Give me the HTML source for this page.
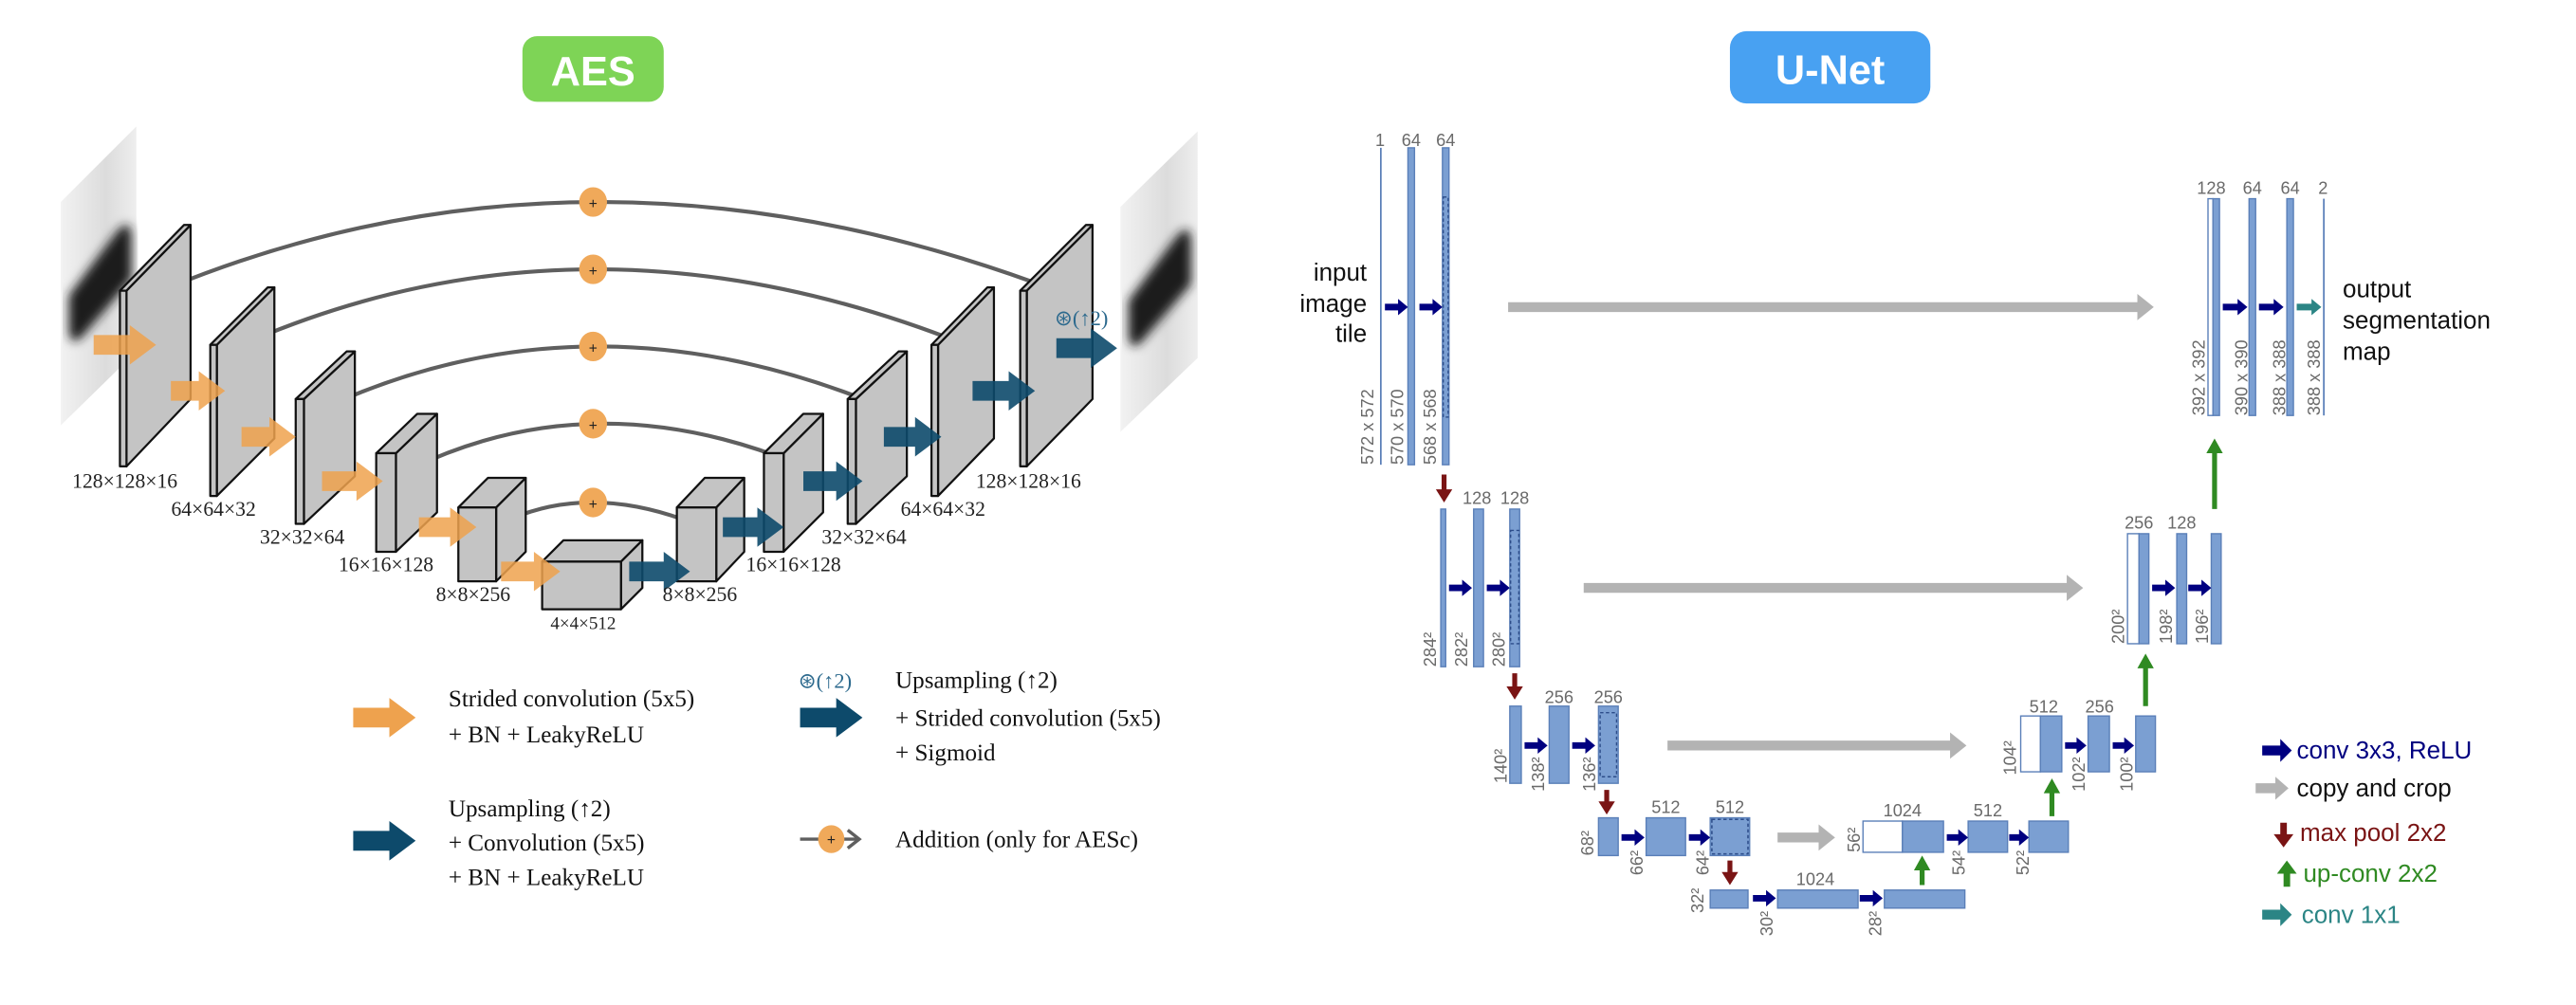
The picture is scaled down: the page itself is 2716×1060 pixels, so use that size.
<!DOCTYPE html>
<html><head><meta charset="utf-8"><style>
html,body{margin:0;padding:0;background:#fff;}
svg{display:block;}
.lab{font-family:"Liberation Serif",serif;font-size:12.5px;fill:#222;}
.leg{font-family:"Liberation Serif",serif;font-size:14.5px;fill:#111;}
.un{font-family:"Liberation Sans",sans-serif;font-size:10.5px;fill:#6a6a6a;}
.ul{font-family:"Liberation Sans",sans-serif;font-size:15px;}
.bar{fill:#7b9fd2;stroke:#5a7fb8;stroke-width:0.8;}
.wb{fill:#fff;stroke:#5a7fb8;stroke-width:0.8;}
.box{fill:#c4c4c4;stroke:#111;stroke-width:1.3;stroke-linejoin:round;}
.arc{fill:none;stroke:#5f5f5f;stroke-width:2.4;}
</style></head><body>
<svg width="2716" height="1060" viewBox="0 0 1568 612" preserveAspectRatio="none" xmlns="http://www.w3.org/2000/svg">
<defs>
<marker id="chev" markerWidth="14" markerHeight="14" refX="9" refY="7" orient="auto" markerUnits="userSpaceOnUse">
<path d="M2,1.5 L9,7 L2,12.5" fill="none" stroke="#5f5f5f" stroke-width="2"/>
</marker>
<linearGradient id="img" x1="0" x2="1"><stop offset="0" stop-color="#f2f2f2"/><stop offset="0.6" stop-color="#dcdcdc"/><stop offset="1" stop-color="#eeeeee"/></linearGradient>
<filter id="bl"><feGaussianBlur stdDeviation="3"/></filter>
</defs>

<rect x="318" y="22" width="86" height="40" rx="9" fill="#7ed456"/>
<text x="361" y="52" text-anchor="middle" font-family="Liberation Sans,sans-serif" font-weight="bold" font-size="25" fill="#fff">AES</text>
<rect x="1053" y="19" width="122" height="44" rx="10" fill="#48a1f2"/>
<text x="1114" y="51" text-anchor="middle" font-family="Liberation Sans,sans-serif" font-weight="bold" font-size="25" fill="#fff">U-Net</text>

<polygon points="37,123 83,77 83,214 37,259" fill="url(#img)"/>
<path d="M42,180 L72,140 Q80,132 80,145 L80,170 L50,205 Q42,212 42,200 Z" fill="#1e1e1e" filter="url(#bl)"/>
<rect x="60" y="150" width="16" height="30" fill="#0e0e0e" transform="skewY(-45) translate(0,0)" opacity="0"/>
<polygon points="682,126 729,80 729,218 682,263" fill="url(#img)"/>
<path d="M687,183 L717,143 Q725,135 725,148 L725,173 L695,208 Q687,215 687,203 Z" fill="#1e1e1e" filter="url(#bl)"/>

<path class="arc" d="M103,175 Q361,70 643,177" marker-end="url(#chev)"/>
<path class="arc" d="M154,207 Q361,119.5 588,210" marker-end="url(#chev)"/>
<path class="arc" d="M205,245 Q361,176.5 533,246" marker-end="url(#chev)"/>
<path class="arc" d="M251,285 Q361,232.5 484,282" marker-end="url(#chev)"/>
<path class="arc" d="M311,316 Q361,294.5 423,319" marker-end="url(#chev)"/>

<g>
<polygon class="box" points="77,177 116,137 116,243 77,284"/><polygon class="box" points="73,177 112,137 116,137 77,177"/><rect class="box" x="73" y="177" width="4" height="107"/>
<polygon class="box" points="132,210 167,175 167,267 132,302"/><polygon class="box" points="128,210 163,175 167,175 132,210"/><rect class="box" x="128" y="210" width="4" height="92"/>
<polygon class="box" points="185,243 216,214 216,290 185,319"/><polygon class="box" points="180,243 211,214 216,214 185,243"/><rect class="box" x="180" y="243" width="5" height="76"/>
<polygon class="box" points="241,276 266,252 266,312 241,336"/><polygon class="box" points="229,276 254,252 266,252 241,276"/><rect class="box" x="229" y="276" width="12" height="60"/>
<polygon class="box" points="302,309 320,291 320,336 302,354"/><polygon class="box" points="279,309 297,291 320,291 302,309"/><rect class="box" x="279" y="309" width="23" height="45"/>
<polygon class="box" points="378,342 391,329 391,358 378,371"/><polygon class="box" points="330,342 343,329 391,329 378,342"/><rect class="box" x="330" y="342" width="48" height="29"/>
<polygon class="box" points="436,309 453,291 453,336 436,354"/><polygon class="box" points="412,309 429,291 453,291 436,309"/><rect class="box" x="412" y="309" width="24" height="45"/>
<polygon class="box" points="477,276 501,252 501,312 477,336"/><polygon class="box" points="465,276 489,252 501,252 477,276"/><rect class="box" x="465" y="276" width="12" height="60"/>
<polygon class="box" points="521,243 552,214 552,290 521,319"/><polygon class="box" points="516,243 547,214 552,214 521,243"/><rect class="box" x="516" y="243" width="5" height="76"/>
<polygon class="box" points="571,210 605,175 605,267 571,302"/><polygon class="box" points="567,210 601,175 605,175 571,210"/><rect class="box" x="567" y="210" width="4" height="92"/>
<polygon class="box" points="625,177 665,137 665,243 625,284"/><polygon class="box" points="621,177 661,137 665,137 625,177"/><rect class="box" x="621" y="177" width="4" height="107"/>
</g>

<g fill="#f0a95a" font-family="Liberation Sans,sans-serif" font-size="9" text-anchor="middle">
<ellipse cx="361" cy="123" rx="8.5" ry="9"/><ellipse cx="361" cy="164" rx="8.5" ry="9"/><ellipse cx="361" cy="211" rx="8.5" ry="9"/><ellipse cx="361" cy="258" rx="8.5" ry="9"/><ellipse cx="361" cy="306" rx="8.5" ry="9"/>
<g fill="#222"><text x="361" y="127">+</text><text x="361" y="168">+</text><text x="361" y="215">+</text><text x="361" y="262">+</text><text x="361" y="310">+</text></g>
</g>

<g fill="#eea24e" fill-opacity="0.85">
<polygon points="57,204 79,204 79,198 95,210 79,222 79,216 57,216"/>
<polygon points="104,232 121,232 121,226 137,238 121,250 121,244 104,244"/>
<polygon points="147,260 164,260 164,254 180,266 164,278 164,272 147,272"/>
<polygon points="196,287 217,287 217,281 233,293 217,305 217,299 196,299"/>
<polygon points="255,315 274,315 274,309 290,321 274,333 274,327 255,327"/>
<polygon points="305,342 325,342 325,336 341,348 325,360 325,354 305,354"/>
</g>
<g fill="#0d4a6b" fill-opacity="0.9">
<polygon points="383,342 404,342 404,336 420,348 404,360 404,354 383,354"/>
<polygon points="440,315 461,315 461,309 477,321 461,333 461,327 440,327"/>
<polygon points="489,287 509,287 509,281 525,293 509,305 509,299 489,299"/>
<polygon points="538,260 557,260 557,254 573,266 557,278 557,272 538,272"/>
<polygon points="592,232 614,232 614,226 630,238 614,250 614,244 592,244"/>
<polygon points="643,206 664,206 664,200 680,212 664,224 664,218 643,218"/>
</g>
<text x="642" y="198" font-family="Liberation Serif,serif" font-size="13" fill="#2d6a8e">⊛(↑2)</text>

<g class="lab" text-anchor="middle">
<text x="76" y="297">128×128×16</text>
<text x="130" y="314">64×64×32</text>
<text x="184" y="331">32×32×64</text>
<text x="235" y="348">16×16×128</text>
<text x="288" y="366">8×8×256</text>
<text x="355" y="383" font-size="11">4×4×512</text>
<text x="426" y="366">8×8×256</text>
<text x="483" y="348">16×16×128</text>
<text x="526" y="331">32×32×64</text>
<text x="574" y="314">64×64×32</text>
<text x="626" y="297">128×128×16</text>
</g>

<polygon points="215,431 237,431 237,425 253,437 237,449 237,443 215,443" fill="#eea24e"/>
<text class="leg" x="273" y="430">Strided convolution (5x5)</text>
<text class="leg" x="273" y="452">+ BN + LeakyReLU</text>
<polygon points="215,506 237,506 237,500 253,512 237,524 237,518 215,518" fill="#0d4a6b"/>
<text class="leg" x="273" y="497">Upsampling (↑2)</text>
<text class="leg" x="273" y="518">+ Convolution (5x5)</text>
<text class="leg" x="273" y="539">+ BN + LeakyReLU</text>
<text x="486" y="419" font-family="Liberation Serif,serif" font-size="13" fill="#2d6a8e">⊛(↑2)</text>
<polygon points="487,431 509,431 509,425 525,437 509,449 509,443 487,443" fill="#0d4a6b"/>
<text class="leg" x="545" y="419">Upsampling (↑2)</text>
<text class="leg" x="545" y="442">+ Strided convolution (5x5)</text>
<text class="leg" x="545" y="463">+ Sigmoid</text>
<path d="M487,511 L523,511" stroke="#5f5f5f" stroke-width="2" marker-end="url(#chev)"/>
<ellipse cx="506" cy="511" rx="8" ry="8.5" fill="#f0a95a"/>
<text x="506" y="514.5" text-anchor="middle" font-family="Liberation Sans,sans-serif" font-size="9" fill="#222">+</text>
<text class="leg" x="545" y="516">Addition (only for AESc)</text>

<g fill="#b3b3b3">
<polygon points="918,184 1301,184 1301,179 1311,187 1301,195 1301,190 918,190"/>
<polygon points="964,355 1258,355 1258,350 1268,358 1258,366 1258,361 964,361"/>
<polygon points="1015,451 1187,451 1187,446 1197,454 1187,462 1187,457 1015,457"/>
<polygon points="1082,507 1107,507 1107,502 1117,510 1107,518 1107,513 1082,513"/>
</g>
<rect x="840" y="90" width="1" height="193" fill="#5a7fb8"/>
<rect class="bar" x="857" y="90" width="4" height="193"/>
<rect class="bar" x="878" y="90" width="4" height="193"/>
<rect x="878.5" y="120" width="3" height="134" fill="none" stroke="#2d4d8a" stroke-width="0.8" stroke-dasharray="2,1.5"/>
<rect class="wb" x="1344" y="121" width="3" height="132"/>
<rect class="bar" x="1347" y="121" width="4" height="132"/>
<rect class="bar" x="1369" y="121" width="4" height="132"/>
<rect class="bar" x="1392" y="121" width="4" height="132"/>
<rect x="1414" y="121" width="1" height="132" fill="#5a7fb8"/>
<rect class="bar" x="877" y="310" width="3" height="96"/>
<rect class="bar" x="897" y="310" width="6" height="96"/>
<rect class="bar" x="919" y="310" width="6" height="96"/>
<rect x="919.5" y="323" width="5" height="69" fill="none" stroke="#2d4d8a" stroke-width="0.8" stroke-dasharray="2,1.5"/>
<rect class="wb" x="1295" y="325" width="7" height="67"/>
<rect class="bar" x="1302" y="325" width="6" height="67"/>
<rect class="bar" x="1325" y="325" width="6" height="67"/>
<rect class="bar" x="1346" y="325" width="6" height="67"/>
<rect class="bar" x="919" y="430" width="7" height="47"/>
<rect class="bar" x="943" y="430" width="12" height="47"/>
<rect class="bar" x="973" y="430" width="12" height="47"/>
<rect x="974" y="434" width="10" height="39" fill="none" stroke="#2d4d8a" stroke-width="0.8" stroke-dasharray="2,1.5"/>
<rect class="wb" x="1230" y="436" width="12" height="34"/>
<rect class="bar" x="1242" y="436" width="13" height="34"/>
<rect class="bar" x="1271" y="436" width="13" height="34"/>
<rect class="bar" x="1300" y="436" width="12" height="34"/>
<rect class="bar" x="973" y="498" width="12" height="23"/>
<rect class="bar" x="1002" y="498" width="24" height="23"/>
<rect class="bar" x="1041" y="498" width="24" height="23"/>
<rect x="1042" y="499" width="22" height="21" fill="none" stroke="#2d4d8a" stroke-width="0.9" stroke-dasharray="2,1.5"/>
<rect class="wb" x="1134" y="500" width="24" height="19"/>
<rect class="bar" x="1158" y="500" width="25" height="19"/>
<rect class="bar" x="1198" y="500" width="24" height="19"/>
<rect class="bar" x="1235" y="500" width="24" height="19"/>
<rect class="bar" x="1041" y="542" width="23" height="11"/>
<rect class="bar" x="1082" y="542" width="49" height="11"/>
<rect class="bar" x="1147" y="542" width="49" height="11"/>

<g fill="#000080">
<polygon points="843,185 851,185 851,182 857,187 851,192 851,189 843,189"/>
<polygon points="864,185 872,185 872,182 878,187 872,192 872,189 864,189"/>
<polygon points="1353,185 1362,185 1362,182 1368,187 1362,192 1362,189 1353,189"/>
<polygon points="1375,185 1384,185 1384,182 1390,187 1384,192 1384,189 1375,189"/>
<polygon points="882,356 890,356 890,353 896,358 890,363 890,360 882,360"/>
<polygon points="905,356 913,356 913,353 919,358 913,363 913,360 905,360"/>
<polygon points="1310,356 1318,356 1318,353 1324,358 1318,363 1318,360 1310,360"/>
<polygon points="1332,356 1340,356 1340,353 1346,358 1340,363 1340,360 1332,360"/>
<polygon points="928,452 936,452 936,449 942,454 936,459 936,456 928,456"/>
<polygon points="957,452 965,452 965,449 971,454 965,459 965,456 957,456"/>
<polygon points="1257,452 1264,452 1264,449 1270,454 1264,459 1264,456 1257,456"/>
<polygon points="1286,452 1293,452 1293,449 1299,454 1293,459 1293,456 1286,456"/>
<polygon points="987,508 995,508 995,505 1001,510 995,515 995,512 987,512"/>
<polygon points="1028,508 1035,508 1035,505 1041,510 1035,515 1035,512 1028,512"/>
<polygon points="1185,508 1192,508 1192,505 1198,510 1192,515 1192,512 1185,512"/>
<polygon points="1223,508 1229,508 1229,505 1235,510 1229,515 1229,512 1223,512"/>
<polygon points="1067,545 1075,545 1075,542 1081,547 1075,552 1075,549 1067,549"/>
<polygon points="1132,545 1140,545 1140,542 1146,547 1140,552 1140,549 1132,549"/>
</g>
<polygon points="1398,185 1407,185 1407,182 1413,187 1407,192 1407,189 1398,189" fill="#2b8585"/>
<g fill="#7a1414">
<polygon points="877.5,289 880.5,289 880.5,298 884,298 879,306 874,298 877.5,298"/>
<polygon points="920.5,410 923.5,410 923.5,418 927,418 922,426 917,418 920.5,418"/>
<polygon points="976.5,481 979.5,481 979.5,488 983,488 978,496 973,488 976.5,488"/>
<polygon points="1051.5,524 1054.5,524 1054.5,531 1058,531 1053,539 1048,531 1051.5,531"/>
</g>
<g fill="#2f8a22">
<polygon points="1346.5,310 1349.5,310 1349.5,276 1353,276 1348,267 1343,276 1346.5,276"/>
<polygon points="1304.5,430 1307.5,430 1307.5,407 1311,407 1306,398 1301,407 1304.5,407"/>
<polygon points="1247.5,497 1250.5,497 1250.5,483 1254,483 1249,474 1244,483 1247.5,483"/>
<polygon points="1168.5,539 1171.5,539 1171.5,530 1175,530 1170,521 1165,530 1168.5,530"/>
</g>

<g class="un" text-anchor="middle">
<text x="840" y="89">1</text><text x="859" y="89">64</text><text x="880" y="89">64</text>
<text x="1346" y="118">128</text><text x="1371" y="118">64</text><text x="1394" y="118">64</text><text x="1414" y="118">2</text>
<text x="899" y="307">128</text><text x="922" y="307">128</text>
<text x="1302" y="322">256</text><text x="1328" y="322">128</text>
<text x="949" y="428">256</text><text x="979" y="428">256</text>
<text x="1244" y="434">512</text><text x="1278" y="434">256</text>
<text x="1014" y="495">512</text><text x="1053" y="495">512</text>
<text x="1158" y="497">1024</text><text x="1210" y="497">512</text>
<text x="1105" y="539">1024</text>
</g>
<g class="un">
<text transform="translate(836,283) rotate(-90)">572 x 572</text>
<text transform="translate(854,283) rotate(-90)">570 x 570</text>
<text transform="translate(874,283) rotate(-90)">568 x 568</text>
<text transform="translate(1342,253) rotate(-90)">392 x 392</text>
<text transform="translate(1368,253) rotate(-90)">390 x 390</text>
<text transform="translate(1391,253) rotate(-90)">388 x 388</text>
<text transform="translate(1412,253) rotate(-90)">388 x 388</text>
<text transform="translate(874,406) rotate(-90)">284²</text>
<text transform="translate(893,406) rotate(-90)">282²</text>
<text transform="translate(916,406) rotate(-90)">280²</text>
<text transform="translate(1293,392) rotate(-90)">200²</text>
<text transform="translate(1322,392) rotate(-90)">198²</text>
<text transform="translate(1344,392) rotate(-90)">196²</text>
<text transform="translate(917,477) rotate(-90)">140²</text>
<text transform="translate(940,482) rotate(-90)">138²</text>
<text transform="translate(971,482) rotate(-90)">136²</text>
<text transform="translate(1227,472) rotate(-90)">104²</text>
<text transform="translate(1269,482) rotate(-90)">102²</text>
<text transform="translate(1298,482) rotate(-90)">100²</text>
<text transform="translate(970,521) rotate(-90)">68²</text>
<text transform="translate(1000,533) rotate(-90)">66²</text>
<text transform="translate(1040,533) rotate(-90)">64²</text>
<text transform="translate(1132,519) rotate(-90)">56²</text>
<text transform="translate(1196,533) rotate(-90)">54²</text>
<text transform="translate(1235,533) rotate(-90)">52²</text>
<text transform="translate(1037,556) rotate(-90)">32²</text>
<text transform="translate(1079,570) rotate(-90)">30²</text>
<text transform="translate(1145,570) rotate(-90)">28²</text>
</g>
<g class="ul" fill="#111">
<text x="832" y="171" text-anchor="end">input</text>
<text x="832" y="190" text-anchor="end">image</text>
<text x="832" y="208" text-anchor="end">tile</text>
<text x="1426" y="181">output</text>
<text x="1426" y="200">segmentation</text>
<text x="1426" y="219">map</text>
</g>

<polygon points="1377,454 1388,454 1388,450 1395,457 1388,464 1388,460 1377,460" fill="#000080"/>
<text class="ul" x="1398" y="462" fill="#000080">conv 3x3, ReLU</text>
<polygon points="1373,477 1385,477 1385,473 1393,480 1385,487 1385,483 1373,483" fill="#b3b3b3"/>
<text class="ul" x="1398" y="485" fill="#111">copy and crop</text>
<polygon points="1388,501 1392,501 1392,508 1396,508 1390,516 1384,508 1388,508" fill="#7a1414"/>
<text class="ul" x="1400" y="512" fill="#7a1414">max pool 2x2</text>
<polygon points="1390,540 1394,540 1394,532 1398,532 1392,524 1386,532 1390,532" fill="#2f8a22"/>
<text class="ul" x="1402" y="537" fill="#2f8a22">up-conv 2x2</text>
<polygon points="1377,554 1388,554 1388,550 1395,557 1388,564 1388,560 1377,560" fill="#2b8585"/>
<text class="ul" x="1401" y="562" fill="#2b8585">conv 1x1</text>
</svg>
</body></html>
